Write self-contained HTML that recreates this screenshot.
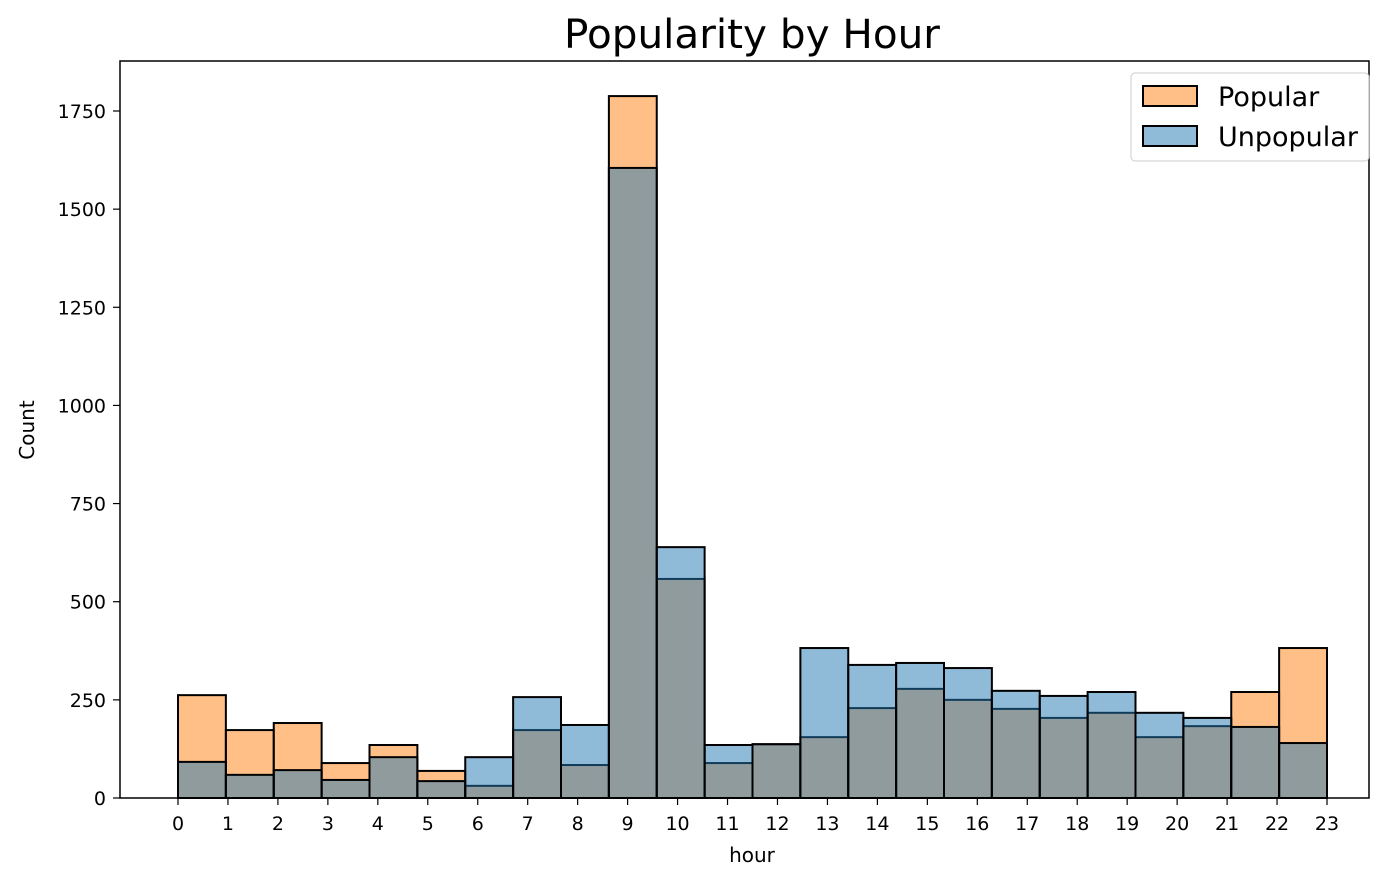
<!DOCTYPE html>
<html><head><meta charset="utf-8"><style>
body{margin:0;background:#fff;font-family:"Liberation Sans","DejaVu Sans",sans-serif}
</style></head><body>
<svg id="chart" width="1400" height="883" xmlns="http://www.w3.org/2000/svg" font-family="DejaVu Sans, Liberation Sans, sans-serif">
<text x="752" y="48" font-size="40.5" text-anchor="middle">Popularity by Hour</text>
<g id="bars"></g>
<g id="axes"></g>
<rect x="120" y="61" width="1249" height="737" fill="none" stroke="#000" stroke-width="1.5"/>
<text x="752" y="862" font-size="20" text-anchor="middle">hour</text>
<text transform="translate(34,430) rotate(-90)" font-size="20" text-anchor="middle">Count</text>
<g>
<rect x="1131" y="73" width="238" height="88" rx="4" fill="#fff" fill-opacity="0.8" stroke="#ccc"/>
<rect x="1143" y="86" width="54" height="20" fill="#ff7f0e" fill-opacity="0.5" stroke="#000" stroke-width="2"/>
<text x="1218" y="106" font-size="27">Popular</text>
<rect x="1143" y="126" width="54" height="20" fill="#1f77b4" fill-opacity="0.5" stroke="#000" stroke-width="2"/>
<text x="1218" y="146" font-size="27">Unpopular</text>
</g>
</svg>
<script>
const binCount = 24;
const popular = [262,173,191,89,135,69,31,173,84,1788,558,89,137,155,229,278,250,227,204,217,155,183,270,382];
const unpopular = [92,59,71,46,104,43,104,257,186,1605,639,135,137,382,339,344,331,273,260,270,217,204,181,140];
const xTicks = [0,1,2,3,4,5,6,7,8,9,10,11,12,13,14,15,16,17,18,19,20,21,22,23];
const yTicks = [0,250,500,750,1000,1250,1500,1750];
const NS="http://www.w3.org/2000/svg";
const x = v => 178 + (v/23)*(1327-178);
const y = v => 798 - v*(798-111)/1750;
const bars=document.getElementById('bars'), axes=document.getElementById('axes');
function mk(tag,attrs,parent){const e=document.createElementNS(NS,tag);for(const k in attrs)e.setAttribute(k,attrs[k]);parent.appendChild(e);return e;}
const bw = 23/binCount;
function drawSeries(vals,color,name){
  vals.forEach((v,i)=>{
    const x0=x(i*bw), x1=x((i+1)*bw);
    const r=mk('rect',{x:x0,y:y(v),width:x1-x0,height:y(0)-y(v),fill:color,'fill-opacity':0.5,stroke:'#000','stroke-width':2},bars);
    
    
  });
}
drawSeries(popular,'#ff7f0e','popular');
drawSeries(unpopular,'#1f77b4','unpopular');
xTicks.forEach(t=>{
  mk('line',{x1:x(t),x2:x(t),y1:798,y2:805,stroke:'#000','stroke-width':1.2},axes);
  const tx=mk('text',{x:x(t),y:830,'font-size':19,'text-anchor':'middle'},axes);
  tx.textContent=t;
  
  
});
yTicks.forEach(t=>{
  mk('line',{x1:113,x2:120,y1:y(t),y2:y(t),stroke:'#000','stroke-width':1.2},axes);
  const tx=mk('text',{x:106,y:y(t)+7,'font-size':19,'text-anchor':'end'},axes);
  tx.textContent=t;
  
  
});
</script>
</body></html>
